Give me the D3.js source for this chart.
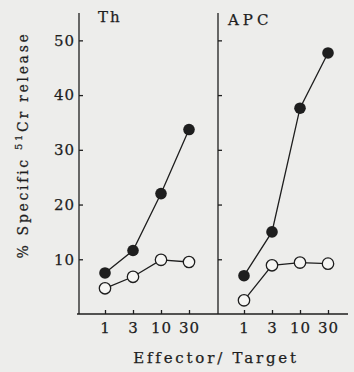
<!DOCTYPE html>
<html>
<head>
<meta charset="utf-8">
<script src="https://cdn.jsdelivr.net/npm/d3@7"></script>
<style>
  html, body { margin: 0; padding: 0; background: #ededeb; }
  svg { display: block; }
  .tick text, .lbl { font-family: "DejaVu Serif", serif; fill: #1e1e1e; stroke: #1e1e1e; stroke-width: 0.25; }
  .line { fill: none; stroke: #1e1e1e; stroke-width: 1.3; }
</style>
</head>
<body>
<div class="chart"></div>
<script>
const WIDTH = 354;
const HEIGHT = 372;
const INK = '#1e1e1e';
const BG = '#ededeb';

// data
var ratios = ['1', '3', '10', '30'];
var panels = ['Th', 'APC'];
var thFilled = [7.5, 11.6, 22.0, 33.7];
var thOpen = [4.7, 6.8, 9.9, 9.5];
var apcFilled = [7.0, 15.0, 37.6, 47.7];
var apcOpen = [2.5, 8.9, 9.4, 9.2];
var yTicks = [10, 20, 30, 40, 50];

// layout
const BASE_Y = 314;
const TOP_Y = 13;
const PANEL_X = [79, 218];
const AXIS_END = 348;

var yScale = d3.scaleLinear().domain([0, 55]).range([BASE_Y, TOP_Y]);
var xScale = d3.scalePoint().domain(ratios).range([26, 110]);

var svg = d3.select('.chart').append('svg')
    .attr('width', WIDTH)
    .attr('height', HEIGHT);

svg.append('rect').attr('width', WIDTH).attr('height', HEIGHT).attr('fill', BG);

// shared baseline
svg.append('line')
    .attr('x1', PANEL_X[0] - 2).attr('x2', AXIS_END)
    .attr('y1', BASE_Y).attr('y2', BASE_Y)
    .attr('stroke', INK).attr('stroke-width', 1.3);

function drawPanel(i, filled, open) {
    var g = svg.append('g').attr('transform', 'translate(' + PANEL_X[i] + ',0)');

    var yAxis = d3.axisRight(yScale).tickValues(yTicks).tickSize(4).tickFormat(i === 0 ? null : '');
    var yG = g.append('g').call(yAxis);
    yG.select('.domain').attr('d', 'M0,' + TOP_Y + 'V' + BASE_Y);
    yG.selectAll('path, line').attr('stroke', INK).attr('stroke-width', 1.3);
    if (i === 0) {
        yG.selectAll('.tick text')
            .attr('x', -4).attr('text-anchor', 'end')
            .attr('font-size', 15).attr('letter-spacing', 1);
    }

    var xAxis = d3.axisTop(xScale).tickSize(4).tickFormat('');
    var xG = g.append('g').attr('transform', 'translate(0,' + BASE_Y + ')').call(xAxis);
    xG.select('.domain').remove();
    xG.selectAll('line').attr('stroke', INK).attr('stroke-width', 1.3);
    xG.selectAll('.tick').append('text')
        .attr('y', 19).attr('text-anchor', 'middle')
        .attr('font-size', 15).attr('letter-spacing', 1)
        .text(function (d) { return d; });

    var line = d3.line()
        .x(function (d, j) { return xScale(ratios[j]); })
        .y(function (d) { return yScale(d); });

    g.append('path').attr('class', 'line').attr('d', line(filled));
    g.append('path').attr('class', 'line').attr('d', line(open));

    g.selectAll('circle.f').data(filled).enter().append('circle')
        .attr('class', 'f')
        .attr('cx', function (d, j) { return xScale(ratios[j]); })
        .attr('cy', function (d) { return yScale(d); })
        .attr('r', 5.8).attr('fill', INK);

    g.selectAll('circle.o').data(open).enter().append('circle')
        .attr('class', 'o')
        .attr('cx', function (d, j) { return xScale(ratios[j]); })
        .attr('cy', function (d) { return yScale(d); })
        .attr('r', 5.7).attr('fill', '#f6f6f4')
        .attr('stroke', INK).attr('stroke-width', 1.3);

    g.append('text').attr('class', 'lbl')
        .attr('x', i === 0 ? 19 : 10).attr('y', i === 0 ? 22 : 25)
        .attr('font-size', 15).attr('letter-spacing', i === 0 ? 2 : 4)
        .text(panels[i]);
}

drawPanel(0, thFilled, thOpen);
drawPanel(1, apcFilled, apcOpen);

// y title
var yt = svg.append('text').attr('class', 'lbl')
    .attr('transform', 'translate(28,145) rotate(-90)')
    .attr('text-anchor', 'middle')
    .attr('font-size', 14).attr('letter-spacing', 2.7);
yt.append('tspan').text('% Specific ');
yt.append('tspan').attr('font-size', 10).attr('dy', -6).text('51');
yt.append('tspan').attr('dy', 6).text('Cr release');

// x title
svg.append('text').attr('class', 'lbl')
    .attr('x', 216).attr('y', 363)
    .attr('text-anchor', 'middle')
    .attr('font-size', 15).attr('letter-spacing', 2.8)
    .text('Effector/ Target');
</script>
</body>
</html>
